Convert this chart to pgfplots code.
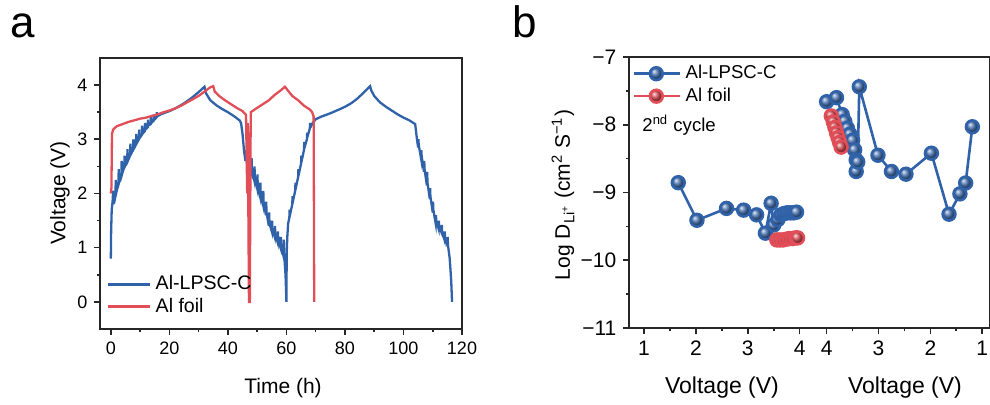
\documentclass[border=0pt]{standalone}
\usepackage{fontspec}
\setmainfont{Liberation Sans}
\usepackage{pgfplots}
\pgfplotsset{compat=1.18}
\definecolor{bblue}{RGB}{48,98,170}
\definecolor{rred}{RGB}{226,78,88}
\begin{document}
\begin{tikzpicture}
\useasboundingbox (0,0) rectangle (495pt,202.5pt);
\pgfplotsset{every axis/.append style={
  scale only axis, axis line style={black!85, line width=0.9pt},
  tick align=outside, tick pos=left,
  major tick length=2.8pt, minor tick length=1.6pt,
  every tick/.style={black!85, line width=0.8pt},
  /pgf/number format/assume math mode=true,
  legend cell align=left,
}}
% ---------------- panel a ----------------
\begin{axis}[at={(50pt,38pt)}, anchor=south west, width=181pt, height=135.5pt,
 xmin=-3.7, xmax=120, ymin=-0.5, ymax=4.5,
 xtick={0,20,...,120}, ytick={0,1,2,3,4}, minor x tick num=1, minor y tick num=1,
 ticklabel style={font=\fontsize{9}{10}\selectfont},
 legend style={at={(rel axis cs:0.019,0.035)}, anchor=south west, draw=none, fill=none,
   inner sep=0pt, font=\fontsize{9.8}{11}\selectfont, row sep=-1.5pt},
 legend image code/.code={\draw[#1, line width=1.2pt] (0pt,0pt) -- (21pt,0pt);},
]
\addplot[bblue, line width=1.15pt] coordinates {
(0,0.8)(0.1,1.3)(0.3,1.7)(0.6,1.85)(0.8,2.05)(0.9,1.8)(1.6,2.05)(1.7,2.25)(1.8,2.0)(2.6,2.2)(2.7,2.45)(2.8,2.2)(3.6,2.35)(3.7,2.6)(3.8,2.35)(4.6,2.5)(4.7,2.7)(4.8,2.5)(5.6,2.6)(5.7,2.82)(5.8,2.6)(6.6,2.7)(6.7,2.92)(6.8,2.72)(7.6,2.8)(7.7,3.0)(7.8,2.82)(8.6,2.9)(8.7,3.1)(8.8,2.92)(9.6,3.0)(9.7,3.18)(9.8,3.02)(10.6,3.08)(10.7,3.25)(10.8,3.1)(11.6,3.15)(11.7,3.3)(11.8,3.18)(12.6,3.22)(12.7,3.36)(12.8,3.25)(13.6,3.28)(13.7,3.42)(13.8,3.3)(14.6,3.34)(14.7,3.46)(14.8,3.36)(15.6,3.4)(15.7,3.5)(15.8,3.42)(17,3.46)(18,3.48)(20,3.52)(22,3.57)(24,3.63)(26,3.7)(28,3.78)(30,3.87)(32,3.97)
(32.5,3.85)(34,3.72)(36,3.63)(38,3.56)(40,3.5)(42,3.43)(44,3.35)(44.5,3.3)(45,3.1)(45.5,2.8)(46,2.6)(46.1,2.8)(46.2,2.65)(47,2.45)(47.1,2.75)(47.2,2.55)(48,2.4)(48.1,2.65)(48.2,2.45)(49,2.25)(49.1,2.5)(49.2,2.3)(50,2.1)(50.1,2.35)(50.2,2.15)(51,1.95)(51.1,2.2)(51.2,2.0)(52,1.8)(52.1,2.05)(52.2,1.85)(53,1.6)(53.1,1.85)(53.2,1.65)(54,1.4)(54.1,1.65)(54.2,1.45)(55,1.3)(55.1,1.5)(55.2,1.35)(56,1.2)(56.1,1.4)(56.2,1.25)(57,1.1)(57.1,1.3)(57.2,1.15)(58,1.0)(58.1,1.2)(58.2,1.05)(59,0.85)(59.1,1.15)(59.2,0.9)(59.7,0.5)(60,0)
(60.1,0.9)(60.3,1.2)(60.6,1.45)(61,1.55)(61.1,1.7)(61.2,1.6)(62,1.8)(62.1,1.95)(62.2,1.85)(63,2.05)(63.1,2.2)(63.2,2.1)(64,2.3)(64.1,2.45)(64.2,2.35)(65,2.55)(65.1,2.7)(65.2,2.6)(66,2.8)(66.1,2.95)(66.2,2.85)(67,3.0)(67.1,3.12)(67.2,3.05)(68,3.2)(68.1,3.3)(68.2,3.22)(69,3.3)(70,3.37)(72,3.42)(75,3.48)(78,3.55)(80,3.6)(82,3.66)(84,3.74)(86,3.84)(88,3.95)(88.6,3.98)
(89,3.9)(90,3.8)(92,3.68)(94,3.6)(96,3.53)(98,3.46)(100,3.4)(102,3.35)(104,3.28)(104.5,3.05)(105,2.85)(105.1,3.0)(105.2,2.9)(106,2.65)(106.1,2.8)(106.2,2.7)(107,2.4)(107.1,2.6)(107.2,2.45)(108,2.15)(108.1,2.4)(108.2,2.2)(109,1.9)(109.1,2.1)(109.2,1.95)(110,1.65)(110.1,1.85)(110.2,1.7)(111,1.45)(111.1,1.6)(111.2,1.5)(112,1.35)(112.1,1.5)(112.2,1.38)(113,1.28)(113.1,1.42)(113.2,1.3)(114,1.15)(114.1,1.3)(114.2,1.18)(115,1.05)(115.1,1.2)(115.2,1.05)(115.8,0.8)(116.3,0.4)(116.6,0)
};
\addlegendentry{Al-LPSC-C}
\addplot[rred, line width=1.15pt] coordinates {
(0,2.0)(0.2,2.1)(0.4,3.1)(0.8,3.18)(2,3.24)(4,3.28)(6,3.32)(8,3.35)(10,3.38)(12,3.4)(14,3.43)(16,3.46)(18,3.5)(20,3.53)(22,3.57)(24,3.62)(26,3.68)(28,3.74)(30,3.8)(32,3.88)(34,3.96)(35,3.98)(35.5,3.88)(37,3.8)(39,3.72)(41,3.65)(43,3.58)(45,3.52)(46.2,3.45)(46.6,2.0)(46.8,3.3)(47.2,0)(47.5,0)(47.8,3.5)(50,3.58)(52,3.65)(54,3.72)(56,3.82)(58,3.9)(59.5,3.97)(60.5,3.9)(62,3.8)(64,3.72)(66,3.62)(68,3.55)(68.8,3.5)(69.3,3.42)(69.5,0)
};
\addlegendentry{Al foil}
\end{axis}
% ---------------- panel b ----------------
\begin{axis}[at={(314.5pt,38.5pt)}, anchor=south west, width=180.5pt, height=135.5pt,
 xmin=0.71, xmax=7.67, ymin=-11, ymax=-7,
 xtick={1,2,3,4,4.52,5.52,6.52,7.52}, xticklabels={1,2,3,4,4,3,2,1},
 minor xtick={1.5,2.5,3.5,5.02,6.02,7.02},
 ytick={-11,-10,-9,-8,-7}, yticklabels={−11,−10,−9,−8,−7}, minor y tick num=1,
 ticklabel style={font=\fontsize{10.5}{12}\selectfont},
 legend style={at={(rel axis cs:0.01,0.985)}, anchor=north west, draw=none, fill=none,
   inner sep=0pt, font=\fontsize{9.3}{11}\selectfont, row sep=-1pt},
 legend image code/.code={\draw[mark repeat=2,mark phase=2,#1] plot coordinates {(0pt,0pt)(11pt,0pt)(23pt,0pt)};},
]
\addplot[bblue, line width=1.3pt, mark=ball, mark size=3.2pt, mark options={ball color=bblue!88!white}] coordinates {
(1.66,-8.855)(2.02,-9.41)(2.59,-9.235)(2.92,-9.26)(3.17,-9.33)(3.34,-9.60)(3.45,-9.16)(3.5,-9.48)(3.58,-9.40)(3.64,-9.33)(3.70,-9.31)(3.76,-9.30)(3.82,-9.30)(3.88,-9.30)(3.94,-9.29)
};
\addlegendentry{Al-LPSC-C}
\addplot[rred, line width=1.3pt, mark=ball, mark size=3.2pt, mark options={ball color=rred!95!black}] coordinates {
(3.56,-9.70)(3.62,-9.70)(3.68,-9.70)(3.74,-9.69)(3.80,-9.68)(3.86,-9.68)(3.92,-9.67)(3.96,-9.67)
};
\addlegendentry{Al foil}
\addplot[bblue, line width=1.3pt, mark=ball, mark size=3.2pt, mark options={ball color=bblue!88!white}, forget plot] coordinates {
(4.52,-7.66)(4.71,-7.60)(4.82,-7.85)(4.87,-7.95)(4.92,-8.05)(4.97,-8.14)(5.02,-8.23)(5.06,-8.37)(5.09,-8.52)(5.09,-8.69)(5.12,-8.55)(5.15,-7.44)(5.51,-8.45)(5.77,-8.69)(6.05,-8.73)(6.54,-8.42)(6.88,-9.32)(7.09,-9.02)(7.20,-8.86)(7.33,-8.03)
};
\addplot[rred, line width=1.3pt, mark=ball, mark size=3.2pt, mark options={ball color=rred!95!black}, forget plot] coordinates {
(4.61,-7.87)(4.65,-7.96)(4.68,-8.04)(4.71,-8.12)(4.74,-8.19)(4.77,-8.26)(4.80,-8.33)
};
\end{axis}
% ---------------- texts ----------------
\node[anchor=base west, font=\fontsize{22}{24}\selectfont, inner sep=0pt] at (5pt,183.5pt) {a};
\node[anchor=base west, font=\fontsize{22}{24}\selectfont, inner sep=0pt] at (256pt,183.5pt) {b};
\node[rotate=90, font=\fontsize{10.5}{12}\selectfont] at (30pt,106pt) {Voltage (V)};
\node[font=\fontsize{10.5}{12}\selectfont] at (141.5pt,8.5pt) {Time (h)};
\node[rotate=90, font=\fontsize{10.5}{12}\selectfont] at (281.5pt,105pt) {Log D\textsubscript{Li\textsuperscript{+}} (cm\textsuperscript{2} S\textsuperscript{−1})};
\node[font=\fontsize{11.5}{13}\selectfont] at (361pt,8.5pt) {Voltage (V)};
\node[font=\fontsize{11.5}{13}\selectfont] at (452.5pt,8.5pt) {Voltage (V)};
\node[anchor=base west, font=\fontsize{9.3}{11}\selectfont, inner sep=0pt] at (321pt,136.5pt) {2\textsuperscript{nd} cycle};
\end{tikzpicture}
\end{document}
